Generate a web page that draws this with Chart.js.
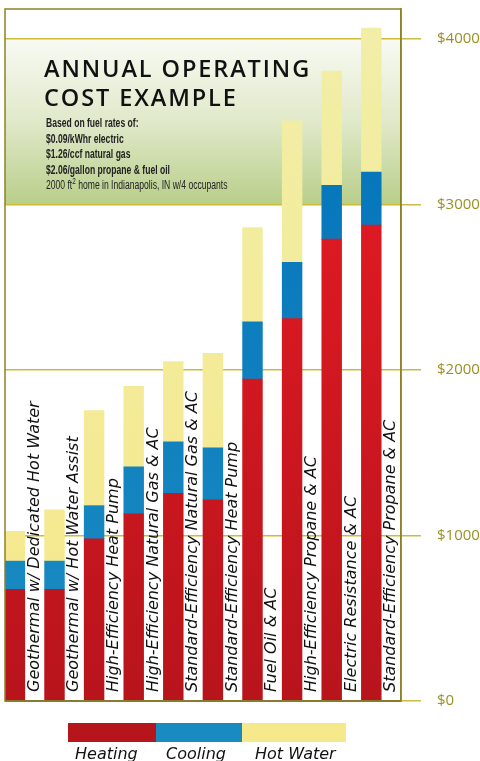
<!DOCTYPE html>
<html>
<head>
<meta charset="utf-8">
<script src="https://cdn.jsdelivr.net/npm/chart.js@4.4.1/dist/chart.umd.min.js"></script>
<style>
  html, body { margin: 0; padding: 0; background: #fff; }
  #wrap { position: relative; width: 480px; height: 761px; overflow: hidden; }
  #title { position: absolute; left: 44px; top: 54px; font-family: "Open Sans", sans-serif; font-weight: 600;
           font-size: 23.5px; line-height: 28.5px; letter-spacing: 1.9px; color: #111; white-space: nowrap; }
  #sub { position: absolute; left: 46px; top: 116px; font-family: "Liberation Sans", sans-serif;
         font-size: 12px; line-height: 15.6px; color: #222; white-space: nowrap;
         transform: scaleX(0.715); transform-origin: 0 0; }
  #sub b { font-weight: bold; }
  #legend { position: absolute; left: 68px; top: 723px; }
  #legend .sw { position: absolute; top: 0; height: 19px; }
  #legend .lb { position: absolute; top: 22px; font-family: "DejaVu Sans", sans-serif; font-style: italic;
                font-size: 16px; line-height: 18px; color: #111; white-space: nowrap; }
</style>
</head>
<body>
<div id="wrap">
  <canvas id="cost-chart"></canvas>
  <div id="title">ANNUAL OPERATING<br>COST EXAMPLE</div>
  <div id="sub">
    <b>Based on fuel rates of:</b><br>
    <b>$0.09/kWhr electric</b><br>
    <b>$1.26/ccf natural gas</b><br>
    <b>$2.06/gallon propane &amp; fuel oil</b><br>
    2000 ft<sup style="font-size:9px;line-height:0">2</sup> home in Indianapolis, IN w/4 occupants
  </div>
  <div id="legend"></div>
</div>
<script>
var categories = ["Geothermal w/ Dedicated Hot Water","Geothermal w/ Hot Water Assist","High-Efficiency Heat Pump",
  "High-Efficiency Natural Gas & AC","Standard-Efficiency Natural Gas & AC","Standard-Efficiency Heat Pump",
  "Fuel Oil & AC","High-Efficiency Propane & AC","Electric Resistance & AC","Standard-Efficiency Propane & AC"];
var heating  = [675, 675, 980, 1130, 1255, 1215, 1945, 2310, 2790, 2875];
var cooling  = [170, 170, 200, 285, 310, 315, 345, 340, 325, 320];
var hotWater = [180, 310, 575, 485, 485, 570, 570, 855, 690, 870];
var yTicks = [0, 1000, 2000, 3000, 4000];
var seriesNames = ["Heating", "Cooling", "Hot Water"];

// top / bottom colour of each series gradient, and flat legend colour
var grad = [["#ee1c25", "#b8141c"], ["#0070ba", "#1c8dc2"], ["#f1eea8", "#f6e88a"]];
var legendCols = ["#b5151b", "#1a8bc0", "#f5e98b"];

function fillFor(n){
  return function(c){
    var area = c.chart.chartArea;
    if(!area) return grad[n][1];
    var g = c.chart.ctx.createLinearGradient(0, area.top, 0, area.bottom);
    g.addColorStop(0, grad[n][0]);
    g.addColorStop(1, grad[n][1]);
    return g;
  };
}

// green panel behind the title, between the $3000 and $4000 lines
var panel = {
  id: 'panel',
  beforeDraw: function(chart){
    var ctx = chart.ctx, a = chart.chartArea, y = chart.scales.y;
    var y1 = y.getPixelForValue(4000), y2 = y.getPixelForValue(3000);
    var g = ctx.createLinearGradient(0, y1, 0, y2);
    g.addColorStop(0, "#f8faf3");
    g.addColorStop(0.5, "#e0e9ca");
    g.addColorStop(1, "#b9ce8a");
    ctx.save();
    ctx.fillStyle = g;
    ctx.fillRect(a.left, y1, a.right - a.left, y2 - y1);
    ctx.restore();
  }
};

// category names written up the gap beside each bar, plus the frame
var labels = {
  id: 'labels',
  afterDatasetsDraw: function(chart){
    var ctx = chart.ctx, a = chart.chartArea, xs = chart.scales.x;
    var w = (a.right - a.left) / categories.length;
    ctx.save();
    ctx.font = 'italic 16px "DejaVu Sans"';
    ctx.fillStyle = '#111';
    ctx.textAlign = 'left';
    ctx.textBaseline = 'middle';
    categories.forEach(function(c, i){
      ctx.save();
      ctx.translate(xs.getPixelForValue(i) + w / 4, a.bottom - 9);
      ctx.rotate(-Math.PI / 2);
      ctx.fillText(c, 0, 0);
      ctx.restore();
    });
    ctx.strokeStyle = '#8d8326';
    ctx.lineWidth = 1.5;
    ctx.strokeRect(a.left, a.top, a.right - a.left, a.bottom - a.top);
    ctx.strokeStyle = '#8a7a2c';
    ctx.lineWidth = 2;
    ctx.beginPath(); ctx.moveTo(a.left, a.bottom); ctx.lineTo(a.right, a.bottom); ctx.stroke();
    ctx.restore();
  }
};

new Chart(document.getElementById('cost-chart'), {
  type: 'bar',
  data: {
    labels: categories,
    datasets: [
      {label: seriesNames[0], data: heating,  backgroundColor: fillFor(0), stack: 'cost'},
      {label: seriesNames[1], data: cooling,  backgroundColor: fillFor(1), stack: 'cost'},
      {label: seriesNames[2], data: hotWater, backgroundColor: fillFor(2), stack: 'cost'},
      {label: '', data: [], stack: 'gap'}
    ]
  },
  options: {
    responsive: true,
    maintainAspectRatio: false,
    animation: false,
    barPercentage: 1,
    categoryPercentage: 1,
    layout: {padding: {left: 5, top: 9, right: 0, bottom: 60}},
    plugins: {legend: {display: false}, tooltip: {enabled: false}},
    scales: {
      x: {display: false, stacked: true},
      y: {
        position: 'right', stacked: true, min: 0, max: 4180,
        afterFit: function(s){ s.width = 79; s.paddingTop = 0; s.paddingBottom = 0; },
        afterBuildTicks: function(s){ s.ticks = yTicks.map(function(v){ return {value: v}; }); },
        ticks: {padding: 16, color: '#9a9125', font: {family: 'Open Sans', size: 15},
                callback: function(v){ return '$' + v; }},
        grid: {color: '#cdbd32', lineWidth: 1.5, tickLength: 20, tickColor: '#c9bb45'},
        border: {display: true, color: '#8d8326', width: 1.5}
      }
    }
  },
  plugins: [panel, labels]
});

var lg = document.getElementById('legend');
var widths = [88, 86, 104], textLeft = [7, 98, 187], x = 0;
seriesNames.forEach(function(n, i){
  lg.innerHTML += '<div class="sw" style="left:' + x + 'px;width:' + widths[i] + 'px;background:' + legendCols[i] + '"></div>' +
                  '<div class="lb" style="left:' + textLeft[i] + 'px">' + n + '</div>';
  x += widths[i];
});
</script>
</body>
</html>
